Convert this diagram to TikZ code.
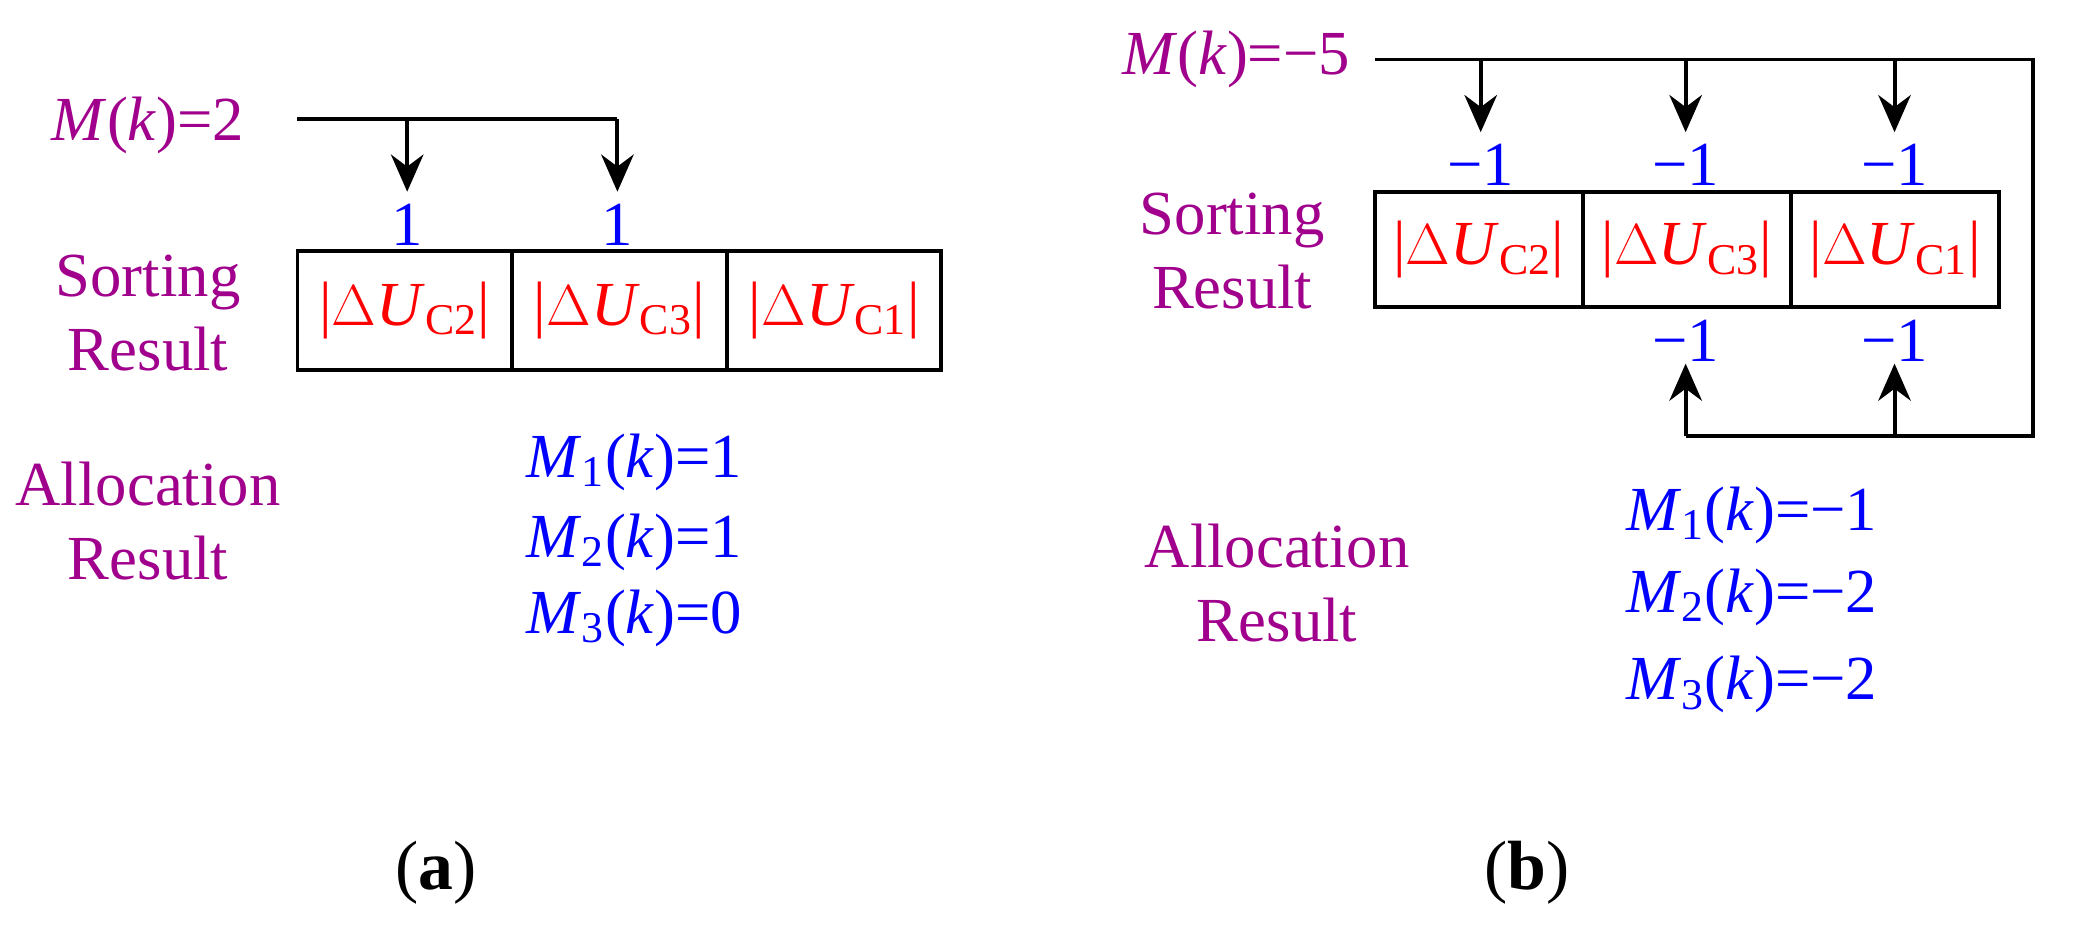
\documentclass[tikz,border=0pt]{standalone}
\usepackage{fontspec}
\setmainfont{Liberation Serif}
\usetikzlibrary{arrows.meta}
\definecolor{pur}{RGB}{160,0,140}
\definecolor{blu}{RGB}{0,0,255}
\definecolor{rd}{RGB}{255,0,0}
\newcommand{\du}[1]{|\(\Delta\)\textit{U}\textsubscript{C#1}|}
\newcommand{\mm}[2]{\textit{M}\textsubscript{#1}(\textit{k})=#2}
\begin{document}
\begin{tikzpicture}[x=0.02cm,y=-0.02cm,
 ln/.style={line width=1.7pt},
 ar/.style={ln,-{Stealth[length=16pt,width=14pt]}},
 pt/.style={text=pur,font=\fontsize{27}{32}\selectfont},
 bl/.style={text=blu,font=\fontsize{27}{32}\selectfont},
 rt/.style={text=rd,font=\fontsize{27}{32}\selectfont},
 bx/.style={draw,ln,minimum height=1.8cm,inner sep=0pt}]
\useasboundingbox (0,0) rectangle (1568,702);
% (a)
\node[pt] (ma) at (112,95) {\textit{M}(\textit{k})=2};
\coordinate (a0) at (225,90); \coordinate (a1) at (308,90); \coordinate (a2) at (467,90);
\draw[ln] (a0) -- (a2);
\node[bl] (o1) at (308,170) {1};
\node[bl] (o2) at (467,170) {1};
\draw[ar] (a1) -- (308,145);
\draw[ar] (a2) -- (467,145);
\node[bx,rt,minimum width=3.24cm] (b1) at (306,235) {\du2};
\node[bx,rt,minimum width=3.26cm] (b2) at (468.5,235) {\du3};
\node[bx,rt,minimum width=3.24cm] (b3) at (631,235) {\du1};
\node[pt,align=center] (sa) at (112,237) {Sorting\\Result};
\node[pt,align=center] (ala) at (112,394) {Allocation\\Result};
\node[bl] (m1a) at (480,350) {\mm1{1}};
\node[bl] (m2a) at (480,410) {\mm2{1}};
\node[bl] (m3a) at (480,468) {\mm3{0}};
\node[font=\fontsize{30}{36}\selectfont] (la) at (330,660) {(\textbf{a})};
% (b)
\node[pt] (mb) at (935,45) {\textit{M}(\textit{k})=−5};
\coordinate (c0) at (1040,45); \coordinate (c1) at (1120,45); \coordinate (c2) at (1275,45);
\coordinate (c3) at (1433,45); \coordinate (c4) at (1538,45); \coordinate (c5) at (1538,330);
\coordinate (c6) at (1433,330); \coordinate (c7) at (1275,330);
\draw[ln] (c0) -- (c4) -- (c5) -- (c7);
\draw[ar] (c1) -- (1120,100);
\draw[ar] (c2) -- (1275,100);
\draw[ar] (c3) -- (1433,100);
\draw[ar] (c7) -- (1275,275);
\draw[ar] (c6) -- (1433,275);
\node[bl] (n1) at (1120,125) {−1};
\node[bl] (n2) at (1275,125) {−1};
\node[bl] (n3) at (1433,125) {−1};
\node[bl] (n4) at (1275,258) {−1};
\node[bl] (n5) at (1433,258) {−1};
\node[bx,rt,minimum width=3.14cm,minimum height=1.74cm] (d1) at (1118.5,189) {\du2};
\node[bx,rt,minimum width=3.16cm,minimum height=1.74cm] (d2) at (1276,189) {\du3};
\node[bx,rt,minimum width=3.14cm,minimum height=1.74cm] (d3) at (1433.5,189) {\du1};
\node[pt,align=center] (sb) at (932,190) {Sorting\\Result};
\node[pt,align=center] (alb) at (966,441) {Allocation\\Result};
\node[bl] (m1b) at (1325,390) {\mm1{−1}};
\node[bl] (m2b) at (1325,452) {\mm2{−2}};
\node[bl] (m3b) at (1325,518) {\mm3{−2}};
\node[font=\fontsize{30}{36}\selectfont] (lb) at (1155,660) {(\textbf{b})};
\end{tikzpicture}
\end{document}
